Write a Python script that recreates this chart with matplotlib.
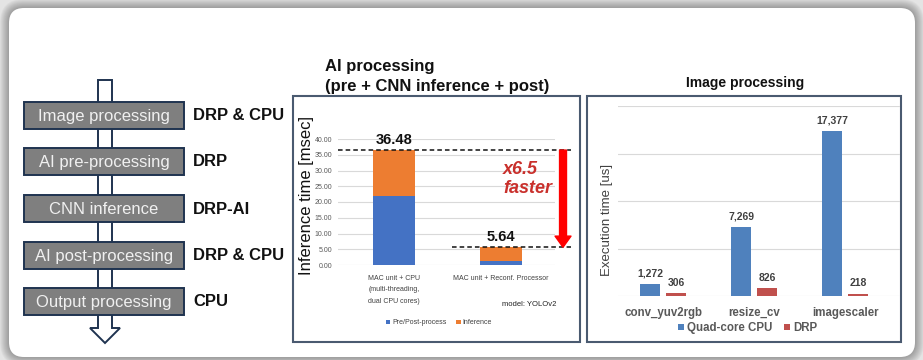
import matplotlib
matplotlib.use("Agg")
import matplotlib.pyplot as plt
import numpy as np
from matplotlib.patches import FancyBboxPatch, Rectangle, Polygon

# ---------------- data ----------------
stages = ["Image processing", "AI pre-processing", "CNN inference",
          "AI post-processing", "Output processing"]
engines = ["DRP & CPU", "DRP", "DRP-AI", "DRP & CPU", "CPU"]

ai_configs = ["MAC unit + CPU\n(multi-threading,\ndual CPU cores)",
              "MAC unit + Reconf. Processor"]
prepost_ms = [22.0, 1.2]
inference_ms = [14.48, 4.44]
total_ms = [36.48, 5.64]
ai_series = ["Pre/Post-process", "Inference"]
ai_yticks = [0, 5, 10, 15, 20, 25, 30, 35, 40]
speedup_text = "x6.5\nfaster"

img_funcs = ["conv_yuv2rgb", "resize_cv", "imagescaler"]
cpu_us = [1272, 7269, 17377]
drp_us = [306, 826, 218]
img_series = ["Quad-core CPU", "DRP"]

# ---------------- figure ----------------
W, H = 923, 360
plt.rcParams['font.family'] = ['Liberation Sans', 'DejaVu Sans']
fig = plt.figure(figsize=(W / 100, H / 100), dpi=100, facecolor='#e4e4e4')

bg = fig.add_axes([0, 0, 1, 1], zorder=0)
bg.set_xlim(0, W)
bg.set_ylim(H, 0)
bg.axis('off')

# shadow + card
for k in range(9, 0, -1):
    bg.add_patch(FancyBboxPatch((9 - k, 8 - k), 906 + 2 * k, 349 + 2 * k,
                                boxstyle="round,pad=0,rounding_size=%d" % (15 + k),
                                facecolor='black', edgecolor='none', alpha=0.035))
bg.add_patch(FancyBboxPatch((9, 8), 906, 349, boxstyle="round,pad=0,rounding_size=15",
                            facecolor='white', edgecolor='none'))

# ---------------- left flow diagram ----------------
navy = '#1f3350'
arrow = Polygon([(98, 80), (112, 80), (112, 328), (120, 328), (105, 343),
                 (90, 328), (98, 328)], closed=True, facecolor='white',
                edgecolor=navy, lw=1.4, zorder=1)
bg.add_patch(arrow)
box_tops = [102, 148, 195, 242, 288]
for top, name, eng in zip(box_tops, stages, engines):
    bg.add_patch(Rectangle((24, top), 160, 27, facecolor='#7f7f7f',
                           edgecolor=navy, lw=1.4, zorder=2))
    bg.text(104, top + 14, name, ha='center', va='center', color='#f0f0f0',
            fontsize=12, zorder=3)
    bg.text(193, top + 14, eng, ha='left', va='center', color='#111111',
            fontsize=12, fontweight='bold', zorder=3)

# ---------------- panel frames ----------------
frame_c = '#4a5a70'
bg.add_patch(Rectangle((293, 96), 287, 246, facecolor='white', edgecolor=frame_c, lw=1.5))
bg.add_patch(Rectangle((587, 96), 314, 246, facecolor='white', edgecolor=frame_c, lw=1.5))

# titles
bg.text(325, 67, "AI processing", ha='left', va='center', fontsize=12,
        fontweight='bold', color='#111111')
bg.text(325, 87, "(pre + CNN inference + post)", ha='left', va='center', fontsize=12,
        fontweight='bold', color='#111111')
bg.text(745, 83, "Image processing", ha='center', va='center', fontsize=10,
        fontweight='bold', color='#111111')


def axes_px(l, t, r, b):
    return fig.add_axes([l / W, 1 - b / H, (r - l) / W, (b - t) / H], zorder=2)


# ---------------- middle chart ----------------
ax = axes_px(338, 139, 555, 265)
ax.set_facecolor('none')
x = np.arange(len(ai_configs))
bw = 0.39
b1 = ax.bar(x, prepost_ms, bw, color='#4472C4', label=ai_series[0], zorder=2)
b2 = ax.bar(x, inference_ms, bw, bottom=prepost_ms, color='#ED7D31',
            label=ai_series[1], zorder=2)
ax.bar_label(b2, labels=[f"{v:.2f}" for v in total_ms], padding=2.5,
             fontsize=10.5, fontweight='bold', color='#111111')
ax.set_xlim(-0.523, 1.505)
ax.set_ylim(0, 40)
ax.set_yticks(ai_yticks)
ax.set_yticklabels([f"{v:.2f}" for v in ai_yticks], fontsize=5, color='#595959')
ax.set_xticks(x)
ax.set_xticklabels(ai_configs, fontsize=5, color='#404040', linespacing=1.9, va='top')
ax.tick_params(length=0, pad=4)
ax.tick_params(axis='x', pad=7)
ax.grid(axis='y', color='#d9d9d9', lw=0.8, zorder=0)
for s in ax.spines.values():
    s.set_visible(False)
ax.set_ylabel("Inference time [msec]", fontsize=12, color='#111111')
ax.yaxis.set_label_coords(-0.11, 0.555)

xr = 1.654
ax.plot([-0.523, xr], [total_ms[0]] * 2, ls=(0, (3, 2)), color='#111111', lw=1.1,
        clip_on=False, zorder=4)
ax.plot([0.542, xr], [total_ms[1]] * 2, ls=(0, (3, 2)), color='#111111', lw=1.1,
        clip_on=False, zorder=4)
ax.annotate("", xy=(1.58, total_ms[1]), xytext=(1.58, total_ms[0]),
            arrowprops=dict(arrowstyle="simple,head_width=1.15,head_length=0.8,tail_width=0.5",
                            color='#ff0000', shrinkA=0, shrinkB=0, mutation_scale=10),
            annotation_clip=False, zorder=5)
ax.text(1.02, 27.3, speedup_text, ha='left', va='center', fontsize=13,
        fontweight='bold', fontstyle='italic', color='#c9302c', linespacing=1.15,
        zorder=5)
ax.legend(loc='center', bbox_to_anchor=(439 / W, 1 - 323 / H),
          bbox_transform=fig.transFigure, ncol=2, frameon=False,
          prop=dict(size=5), handlelength=0.6, handleheight=0.6, handletextpad=0.3,
          columnspacing=1.4, labelcolor='#404040')
bg.text(502, 305, "model: YOLOv2", ha='left', va='center', fontsize=5.5,
        color='#222222')

# ---------------- right chart ----------------
ax2 = axes_px(618, 106, 900, 296)
ax2.set_facecolor('none')
xi = np.arange(len(img_funcs))
off, w2 = 0.143, 0.22
c1 = ax2.bar(xi - off, cpu_us, w2, color='#4F81BD', label=img_series[0], zorder=2)
c2 = ax2.bar(xi + off, drp_us, w2, color='#C0504D', label=img_series[1], zorder=2)
for c in (c1, c2):
    ax2.bar_label(c, labels=[f"{v:,}" for v in c.datavalues], padding=4,
                  fontsize=7.5, fontweight='bold', color='#404040')
ax2.set_xlim(-0.495, 2.6)
ax2.set_ylim(0, 20000)
ax2.set_yticks([0, 5000, 10000, 15000, 20000])
ax2.set_yticklabels([])
ax2.set_xticks(xi)
ax2.set_xticklabels(img_funcs, fontsize=8.3, fontweight='bold', color='#595959')
ax2.tick_params(length=0)
ax2.tick_params(axis='x', pad=8)
ax2.grid(axis='y', color='#d9d9d9', lw=0.8, zorder=0)
for s in ax2.spines.values():
    s.set_visible(False)
ax2.set_ylabel("Execution time [us]", fontsize=9.5, color='#404040')
ax2.yaxis.set_label_coords(-0.018, 0.4)
ax2.legend(loc='center', bbox_to_anchor=(748 / W, 1 - 328 / H),
           bbox_transform=fig.transFigure, ncol=2, frameon=False,
           prop=dict(size=8.3, weight='bold'), labelcolor='#595959',
           handlelength=0.5, handleheight=0.5, handletextpad=0.3, columnspacing=1.0)

fig.savefig("out.png", dpi=100, facecolor=fig.get_facecolor())
